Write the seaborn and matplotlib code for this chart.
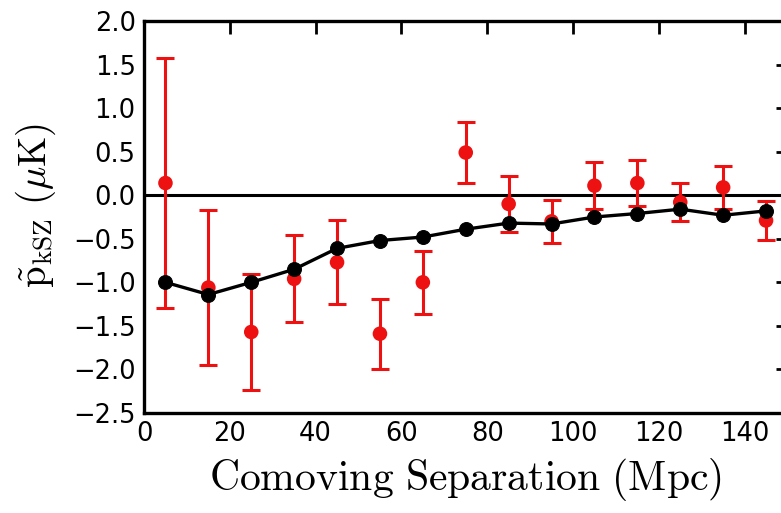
import numpy as np
import pandas as pd
import matplotlib
matplotlib.use("Agg")
import matplotlib.pyplot as plt
import seaborn as sns

# Data
sep = [5, 15, 25, 35, 45, 55, 65, 75, 85, 95, 105, 115, 125, 135, 145]
p_obs = [0.14, -1.06, -1.57, -0.96, -0.77, -1.59, -1.00, 0.49, -0.10, -0.30,
         0.11, 0.14, -0.08, 0.09, -0.29]
p_err = [1.44, 0.89, 0.67, 0.50, 0.48, 0.40, 0.36, 0.35, 0.32, 0.25,
         0.27, 0.26, 0.22, 0.25, 0.22]
p_model = [-1.00, -1.14, -1.00, -0.85, -0.61, -0.52, -0.48, -0.39, -0.32, -0.33,
           -0.25, -0.21, -0.16, -0.23, -0.18]
xticks = [0, 20, 40, 60, 80, 100, 120, 140]
yticks = [-2.5, -2.0, -1.5, -1.0, -0.5, 0.0, 0.5, 1.0, 1.5, 2.0]

sns.set_theme(style="white")
plt.rcParams['font.family'] = ['DejaVu Sans']
plt.rcParams['mathtext.fontset'] = 'cm'
plt.rcParams['text.color'] = 'black'
plt.rcParams['axes.labelcolor'] = 'black'
plt.rcParams['xtick.color'] = 'black'
plt.rcParams['ytick.color'] = 'black'

df = pd.DataFrame({"sep": sep, "obs": p_obs, "err": p_err, "model": p_model})

fig = plt.figure(figsize=(7.81, 5.13), dpi=100)
ax = fig.add_axes([144 / 781, 1 - 413 / 513, (787.5 - 144) / 781, (413 - 21) / 513])

ax.axhline(0, color='black', lw=2.2, zorder=1)
ax.errorbar(df["sep"], df["obs"], yerr=df["err"], fmt='none', ecolor='#ee1111',
            elinewidth=2.2, capsize=6.5, capthick=2.2, zorder=2)
sns.scatterplot(data=df, x="sep", y="obs", ax=ax, color='#ee1111', s=110,
                edgecolor='none', zorder=3)
sns.lineplot(data=df, x="sep", y="model", ax=ax, color='black', lw=2.4,
             marker='o', markersize=10, markeredgecolor='black', zorder=4)

ax.set_xlim(0, 150)
ax.set_ylim(-2.5, 2.0)
ax.set_xticks(xticks)
ax.set_yticks(yticks)
ax.set_xticklabels([str(t) for t in xticks])
ax.set_yticklabels([f"{t:.1f}".replace('-', '\u2212') for t in yticks])
ax.tick_params(direction='in', length=9, width=2, top=True, right=True,
               labelsize=18.5, colors='black', pad=6)
for s in ax.spines.values():
    s.set_linewidth(2.4)
    s.set_color('black')

ax.set_xlabel(r'$\mathrm{Comoving\ Separation\ (Mpc)}$', fontsize=30, labelpad=6)
ax.set_ylabel(r'$\tilde{\mathrm{p}}_{\mathrm{kSZ}}\ (\mu\mathrm{K})$', fontsize=28)
ax.yaxis.set_label_coords(-0.134, 0.53)

fig.savefig("out.png", dpi=100)
